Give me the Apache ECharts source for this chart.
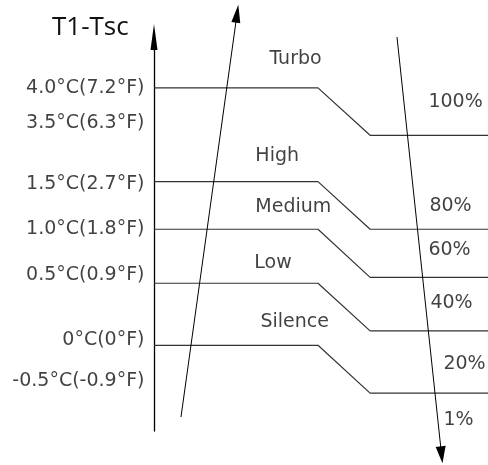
<!DOCTYPE html>
<html>
<head>
<meta charset="utf-8">
<script src="https://cdn.jsdelivr.net/npm/echarts@6/dist/echarts.min.js"></script>
<style>
html,body{margin:0;padding:0;background:#fff;}
#c{width:488px;height:465px;}
</style>
</head>
<body>
<div id="c"></div>
<script>
// ---- data (schematic units: x 0..100 across plot, y 0..100 up the T1-Tsc axis) ----
const axisTitle = 'T1-Tsc';
const tempLabels = ['4.0°C(7.2°F)', '3.5°C(6.3°F)', '1.5°C(2.7°F)', '1.0°C(1.8°F)', '0.5°C(0.9°F)', '0°C(0°F)', '-0.5°C(-0.9°F)'];
const tempLevels = [87.0, 78.1, 62.6, 51.3, 39.5, 23.1, 12.6];

const modes = ['Turbo', 'High', 'Medium', 'Low', 'Silence'];
const modeOnLevel = [87.1, 63.3, 51.2, 37.5, 21.75];
const modeOffLevel = [75.05, 51.2, 39.0, 25.4, 9.6];
const modeLabelX = [34.4, 30.2, 30.2, 29.9, 31.7];
const modeLabelY = [94.4, 69.8, 56.9, 42.6, 27.7];

const fanSpeeds = ['100%', '80%', '60%', '40%', '20%', '1%'];
const fanLabelX = [82.0, 82.3, 82.0, 82.6, 86.5, 86.5];
const fanLabelY = [83.6, 57.0, 46.0, 32.4, 16.9, 2.9];

const rampX = [0, 49.1, 64.7, 100];

const riseArrow = [[8.08, 3.55], [24.87, 105.9]];
const fallArrow = [[72.75, 100], [86.1, -6.04]];

// ---- chart ----
const FONT = 'DejaVu Sans';
const TITLE_FONT = 'Open Sans';
const TXT = '#111';
const chart = echarts.init(document.getElementById('c'), null, {renderer: 'canvas'});

function angleOf(p0, p1) {
  const a = chart.convertToPixel({gridIndex: 0}, p0);
  const b = chart.convertToPixel({gridIndex: 0}, p1);
  const dx = b[0] - a[0], dy = b[1] - a[1];
  return -Math.atan2(dx, -dy) * 180 / Math.PI;
}

const stepSeries = modes.map((m, i) => ({
  type: 'line',
  name: m,
  data: [[rampX[0], modeOnLevel[i]], [rampX[1], modeOnLevel[i]], [rampX[2], modeOffLevel[i]], [rampX[3], modeOffLevel[i]]],
  symbol: 'none',
  lineStyle: {color: '#333', width: 1.2},
  silent: true,
  z: 3
}));

function labelSeries(names, xs, ys, pos, dist) {
  return {
    type: 'scatter',
    symbolSize: 1,
    itemStyle: {color: 'rgba(0,0,0,0)'},
    silent: true,
    data: names.map((n, i) => ({name: n, value: [xs[i], ys[i]]})),
    label: {
      show: true, position: pos, distance: dist, formatter: '{b}',
      fontFamily: FONT, fontSize: 19, color: TXT
    },
    z: 5
  };
}

function arrowSeries(pts, size) {
  return {
    type: 'line',
    clip: false,
    silent: true,
    data: [
      {value: pts[0], symbol: 'none'},
      {value: pts[1], symbol: 'triangle', symbolSize: size, symbolRotate: 0}
    ],
    showSymbol: true,
    lineStyle: {color: '#000', width: 1},
    itemStyle: {color: '#000'},
    z: 4
  };
}

const option = {
  animation: false,
  backgroundColor: '#fff',
  title: {
    text: axisTitle, left: 52, top: 15, padding: 0,
    textStyle: {fontFamily: TITLE_FONT, fontSize: 26, fontWeight: 'normal', color: TXT}
  },
  grid: {left: 154, right: 0, top: 37, bottom: 34},
  xAxis: {type: 'value', min: 0, max: 100, show: false},
  yAxis: {
    type: 'value', min: 0, max: 100,
    axisLine: {show: true, onZero: false, symbol: ['none', 'triangle'], symbolSize: [7, 26], lineStyle: {color: '#000', width: 1.3}},
    axisTick: {show: false}, axisLabel: {show: false}, splitLine: {show: false}
  },
  series: [
    ...stepSeries,
    labelSeries(tempLabels, tempLabels.map(() => 0), tempLevels, 'left', 9),
    labelSeries(modes, modeLabelX, modeLabelY, 'right', 0),
    labelSeries(fanSpeeds, fanLabelX, fanLabelY, 'right', 0),
    arrowSeries(riseArrow, [9, 18]),
    arrowSeries(fallArrow, [10, 17])
  ]
};
chart.setOption(option);
const n = option.series.length;
chart.setOption({
  series: option.series.map((s, i) => {
    if (i === n - 2) return {data: [{value: riseArrow[0], symbol: 'none'}, {value: riseArrow[1], symbol: 'triangle', symbolSize: [9, 18], symbolRotate: angleOf(riseArrow[0], riseArrow[1])}]};
    if (i === n - 1) return {data: [{value: fallArrow[0], symbol: 'none'}, {value: fallArrow[1], symbol: 'triangle', symbolSize: [10, 17], symbolRotate: angleOf(fallArrow[0], fallArrow[1])}]};
    return {};
  })
});
</script>
</body>
</html>
